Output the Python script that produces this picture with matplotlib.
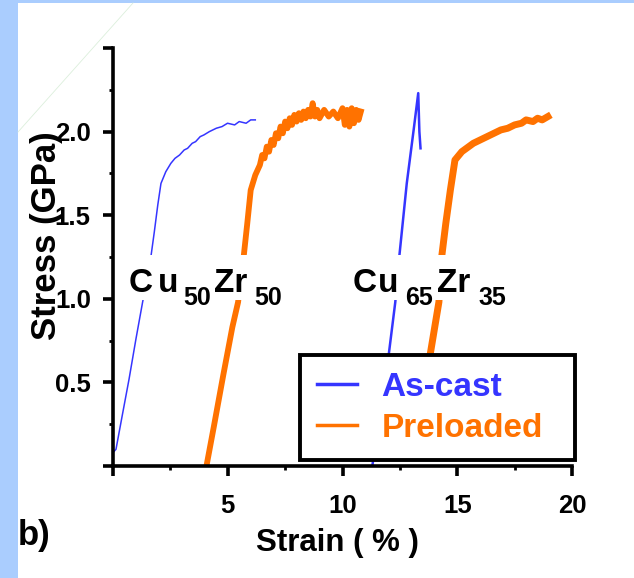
import matplotlib
matplotlib.use("Agg")
import matplotlib.pyplot as plt
from matplotlib.lines import Line2D
from matplotlib.ticker import MultipleLocator, FuncFormatter

plt.rcParams['font.family'] = ['Liberation Sans', 'DejaVu Sans']
plt.rcParams['font.weight'] = 'bold'

BLUE = '#3535ff'
ORANGE = '#ff7200'

# Cu50Zr50, as-cast
cu50_cast_x = [0.0, 0.13, 0.4, 0.7, 1.0, 1.29, 1.5, 1.65, 1.8, 1.95, 2.09, 2.3, 2.52,
               2.7, 2.9, 3.1, 3.25, 3.45, 3.6, 3.8, 3.96, 4.2, 4.5, 4.75, 4.99, 5.3,
               5.5, 5.8, 6.0, 6.2]
cu50_cast_y = [0.08, 0.10, 0.30, 0.52, 0.76, 0.98, 1.13, 1.25, 1.40, 1.56, 1.69, 1.76, 1.81,
               1.84, 1.86, 1.89, 1.90, 1.93, 1.94, 1.97, 1.98, 2.00, 2.02, 2.03, 2.05, 2.04,
               2.06, 2.05, 2.07, 2.07]

# Cu50Zr50, preloaded
cu50_pre_x = [4.1, 4.4, 4.8, 5.2, 5.45, 5.7, 5.85, 6.0, 6.2, 6.4, 6.5, 6.6, 6.7, 6.8, 6.9,
              7.0, 7.1, 7.2, 7.3, 7.4, 7.5, 7.6, 7.7, 7.8, 7.9, 8.0, 8.1, 8.2, 8.3, 8.4,
              8.5, 8.6, 8.7, 8.8, 8.9, 9.0, 9.2, 9.4, 9.6, 9.8, 10.0, 10.1, 10.2, 10.3,
              10.4, 10.5, 10.6, 10.7, 10.8]
cu50_pre_y = [0.02, 0.24, 0.54, 0.83, 0.98, 1.26, 1.45, 1.65, 1.74, 1.80, 1.86, 1.84, 1.91,
              1.88, 1.95, 1.92, 1.99, 1.96, 2.03, 1.99, 2.06, 2.02, 2.08, 2.04, 2.10, 2.06,
              2.11, 2.07, 2.12, 2.08, 2.13, 2.09, 2.17, 2.09, 2.13, 2.08, 2.13, 2.09, 2.12,
              2.08, 2.14, 2.04, 2.13, 2.03, 2.14, 2.05, 2.13, 2.07, 2.12]

# Cu65Zr35, as-cast
cu65_cast_x = [11.3, 11.6, 12.0, 12.3, 12.48, 12.8, 13.1, 13.3, 13.35, 13.4]
cu65_cast_y = [0.0, 0.30, 0.65, 0.98, 1.26, 1.69, 2.01, 2.23, 2.00, 1.90]

# Cu65Zr35, preloaded
cu65_pre_x = [13.1, 13.5, 13.8, 14.2, 14.33, 14.5, 14.7, 14.9, 15.2, 15.5, 15.7, 16.0,
              16.3, 16.6, 16.9, 17.2, 17.5, 17.8, 18.0, 18.3, 18.5, 18.7, 18.95]
cu65_pre_y = [0.08, 0.40, 0.65, 0.98, 1.26, 1.45, 1.65, 1.83, 1.88, 1.91, 1.93, 1.95,
              1.97, 1.99, 2.01, 2.02, 2.04, 2.05, 2.07, 2.06, 2.08, 2.07, 2.09]

fig = plt.figure(figsize=(6.34, 5.78), dpi=100, facecolor='#aacdfe')
# white slide panel
fig.patches.append(plt.Rectangle((18 / 634, 0), 1, 1 - 3 / 578, transform=fig.transFigure,
                                 facecolor='white', edgecolor='none', zorder=-10))
fig.lines.append(Line2D([18 / 634, 133 / 634], [1 - 132 / 578, 1 - 3 / 578],
                        transform=fig.transFigure, color='#dcefdc', lw=0.6))

ax = fig.add_axes([113 / 634, 1 - 466 / 578, 459 / 634, 418 / 578])
ax.set_facecolor('none')

ax.plot(cu50_cast_x, cu50_cast_y, color=BLUE, lw=1.1)
ax.plot(cu50_pre_x, cu50_pre_y, color=ORANGE, lw=4.2)
ax.plot(cu65_cast_x, cu65_cast_y, color=BLUE, lw=1.8)
ax.plot(cu65_pre_x, cu65_pre_y, color=ORANGE, lw=5)

ax.set_xlim(0, 20)
ax.set_ylim(0, 2.5)
for s in ['top', 'right']:
    ax.spines[s].set_visible(False)
for s in ['left', 'bottom']:
    ax.spines[s].set_linewidth(2.6)

ax.xaxis.set_major_locator(MultipleLocator(5))
ax.xaxis.set_minor_locator(MultipleLocator(2.5))
ax.yaxis.set_major_locator(MultipleLocator(0.5))
ax.yaxis.set_minor_locator(MultipleLocator(0.25))
ax.xaxis.set_major_formatter(FuncFormatter(lambda v, p: '' if v == 0 else '%d' % v))
ax.yaxis.set_major_formatter(FuncFormatter(lambda v, p: '' if v in (0, 2.5) else '%.1f' % v))
ax.tick_params(axis='both', which='major', direction='out', length=7, width=2.6,
               labelsize=18.5)
ax.tick_params(axis='both', which='minor', direction='out', length=3, width=2)
ax.tick_params(axis='x', which='major', pad=13)
ax.tick_params(axis='y', which='major', pad=9)


def formula(x0, parts):
    # white strip behind the label, then each piece at its own pixel offset
    ax.add_patch(plt.Rectangle((x0 - 0.1, 0.99), 6.9, 0.27, facecolor='white',
                               edgecolor='none', zorder=4))
    for s, dx, sub in parts:
        ax.annotate(s, xy=(x0, 1.042), xycoords='data', xytext=(dx, -13 if sub else 0),
                    textcoords='offset pixels', fontsize=18 if sub else 24,
                    ha='left', va='baseline', zorder=5)


formula(0.7, [('C', 0, False), ('u', 29, False), ('50', 54, True),
              ('Zr', 85, False), ('50', 125, True)])
formula(10.43, [('C', 0, False), ('u', 26, False), ('65', 53, True),
                ('Zr', 85, False), ('35', 126, True)])

handles = [Line2D([], [], color=BLUE, lw=2.5), Line2D([], [], color=ORANGE, lw=2.5)]
leg = ax.legend(handles, ['As-cast', 'Preloaded'], loc='upper left', mode='expand',
                bbox_to_anchor=(300 / 634, 1 - 452 / 578, 275 / 634, 97 / 578),
                bbox_transform=fig.transFigure,
                borderaxespad=0, prop={'size': 24, 'weight': 'bold'},
                handlelength=1.2, handletextpad=0.75, labelspacing=0.3,
                borderpad=0.5, fancybox=False, framealpha=1)
leg.get_frame().set_edgecolor('black')
leg.get_frame().set_linewidth(2.8)
leg.set_zorder(6)
for t, c in zip(leg.get_texts(), [BLUE, ORANGE]):
    t.set_color(c)

fig.text(337 / 634, 1 - 543 / 578, 'Strain ( % )', fontsize=22.5, ha='center', va='center')
fig.text(47 / 634, 1 - 236 / 578, 'Stress (GPa)', fontsize=25, rotation=90,
         ha='center', va='center')
fig.text(18 / 634, 1 - 545 / 578, 'b)', fontsize=25, ha='left', va='baseline')

fig.savefig('out.png', dpi=100, facecolor=fig.get_facecolor())
